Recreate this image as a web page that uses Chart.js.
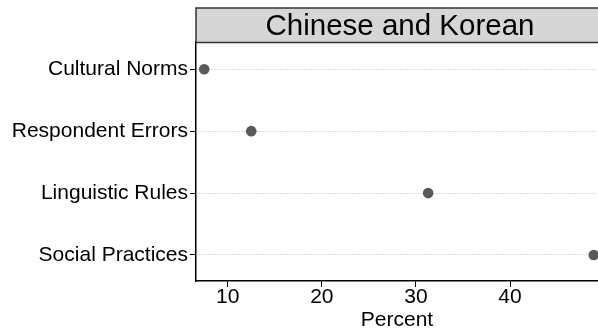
<!DOCTYPE html>
<html>
<head>
<meta charset="utf-8">
<script src="https://cdn.jsdelivr.net/npm/chart.js@4"></script>
<style>
  body { margin: 0; background: #fff; }
  canvas { display: block; }
</style>
</head>
<body>
<canvas id="myChart" width="598" height="331"></canvas>
<script>
// chart data
const stripTitle = 'Chinese and Korean';
const categories = ['Cultural Norms', 'Respondent Errors', 'Linguistic Rules', 'Social Practices'];
const percents = [7.5, 12.5, 31.3, 48.9];
const xTicks = [10, 20, 30, 40];
const xLabel = 'Percent';

const fontFamily = '"Liberation Sans", Arial, sans-serif';

// grey strip with the panel title above the plot
const stripPlugin = {
    id: 'strip',
    afterDraw(chart) {
        const { ctx, chartArea } = chart;
        ctx.save();
        ctx.fillStyle = '#d6d6d6';
        ctx.fillRect(chartArea.left, 8, chart.width - chartArea.left + 4, 34.5);
        ctx.strokeStyle = '#333';
        ctx.lineWidth = 1.5;
        ctx.strokeRect(chartArea.left, 8, chart.width - chartArea.left + 4, 34.5);
        ctx.fillStyle = '#000';
        ctx.font = '29.5px ' + fontFamily;
        ctx.textAlign = 'center';
        ctx.textBaseline = 'alphabetic';
        ctx.fillText(stripTitle, 400, 35);
        ctx.restore();
    }
};

const ctx = document.getElementById('myChart').getContext('2d');
const chart = new Chart(ctx, {
    type: 'scatter',
    data: {
        datasets: [{
            data: categories.map((c, i) => ({ x: percents[i], y: i })),
            backgroundColor: '#5a5a5a',
            borderWidth: 0,
            pointRadius: 5.3,
            pointHoverRadius: 5.3
        }]
    },
    options: {
        responsive: false,
        animation: false,
        layout: { autoPadding: false, padding: { top: 42, left: 0, right: 0, bottom: 0 } },
        plugins: {
            legend: { display: false },
            tooltip: { enabled: false }
        },
        scales: {
            x: {
                type: 'linear',
                min: 6.63,
                max: 49.35,
                afterBuildTicks: scale => { scale.ticks = xTicks.map(v => ({ value: v })); },
                afterFit: scale => { scale.height = 50; },
                grid: {
                    drawOnChartArea: false,
                    drawTicks: true,
                    tickLength: 6,
                    tickColor: '#000',
                    tickWidth: 1
                },
                border: { display: true, color: '#000', width: 1.5 },
                ticks: {
                    padding: 0,
                    color: '#000',
                    maxRotation: 0,
                    font: { family: fontFamily, size: 21, lineHeight: 1.0 }
                },
                title: {
                    display: true,
                    text: xLabel,
                    color: '#000',
                    padding: 0,
                    font: { family: fontFamily, size: 21, lineHeight: 1.05 }
                }
            },
            y: {
                type: 'linear',
                reverse: true,
                min: -0.44,
                max: 3.42,
                afterBuildTicks: scale => { scale.ticks = categories.map((c, i) => ({ value: i })); },
                afterFit: scale => { scale.width = 196; },
                grid: {
                    color: '#bdbdbd',
                    lineWidth: 1,
                    drawTicks: true,
                    tickLength: 6,
                    tickColor: '#000',
                    tickWidth: 1,
                    tickBorderDash: []
                },
                border: { display: true, color: '#000', width: 1.5, dash: [1, 2] },
                ticks: {
                    padding: 2,
                    color: '#000',
                    font: { family: fontFamily, size: 21 },
                    callback: value => categories[value]
                }
            }
        }
    },
    plugins: [stripPlugin]
});
</script>
</body>
</html>
